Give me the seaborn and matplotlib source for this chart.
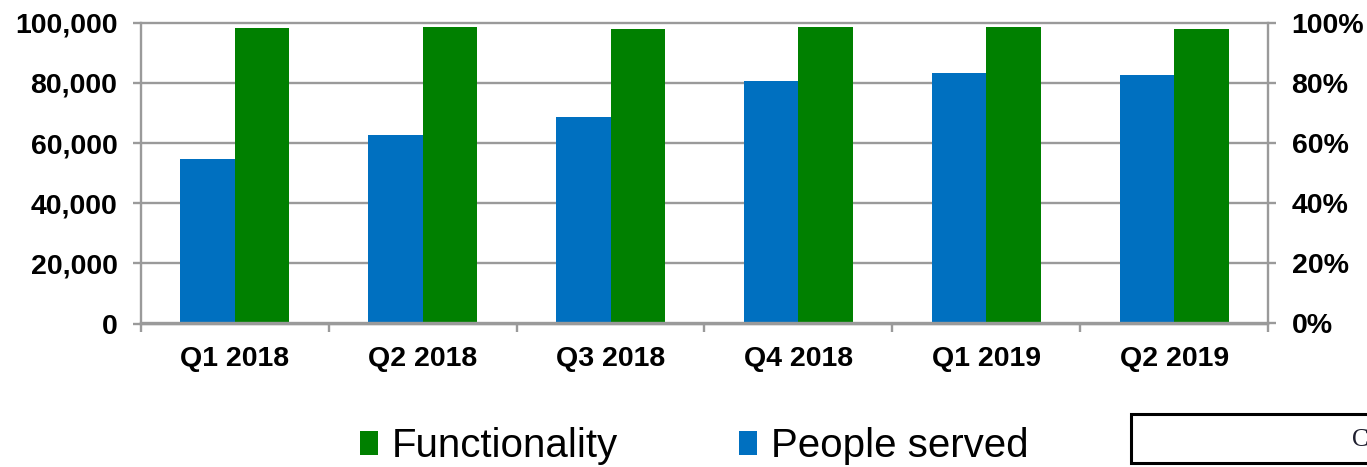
import numpy as np
import pandas as pd
import matplotlib
matplotlib.use("Agg")
import matplotlib.pyplot as plt
from matplotlib.patches import Rectangle
from matplotlib.ticker import FuncFormatter
import seaborn as sns

# ---- data ----
quarters = ["Q1 2018", "Q2 2018", "Q3 2018", "Q4 2018", "Q1 2019", "Q2 2019"]
people_served = [54600, 62600, 68500, 80600, 83300, 82600]
functionality = [98.3, 98.5, 97.8, 98.5, 98.5, 97.8]
series_names = ["People served", "Functionality"]
legend_order = ["Functionality", "People served"]

sns.set_style("white")
plt.rcParams["font.family"] = ["Liberation Sans", "DejaVu Sans"]
plt.rcParams["text.color"] = "black"
plt.rcParams["xtick.color"] = "black"
plt.rcParams["ytick.color"] = "black"

BLUE = "#0070C0"
GREEN = "#008000"
GRAY = "#9A9A9A"
palette = {"People served": BLUE, "Functionality": GREEN}

df_people = pd.DataFrame({"Quarter": quarters, "Value": people_served,
                          "Series": "People served"})
df_func = pd.DataFrame({"Quarter": quarters, "Value": functionality,
                        "Series": "Functionality"})

W, H = 1367, 467
fig = plt.figure(figsize=(W / 100, H / 100), dpi=100)
ax = fig.add_axes([141 / W, 1 - 323.5 / H, (1268 - 141) / W, (323.5 - 22.7) / H])
ax2 = ax.twinx()

sns.barplot(data=df_people, x="Quarter", y="Value", hue="Series",
            hue_order=series_names, order=quarters, palette=palette,
            width=0.58, dodge=True, saturation=1, linewidth=0, legend=False,
            ax=ax, errorbar=None)
sns.barplot(data=df_func, x="Quarter", y="Value", hue="Series",
            hue_order=series_names, order=quarters, palette=palette,
            width=0.58, dodge=True, saturation=1, linewidth=0, legend=False,
            ax=ax2, errorbar=None)

ax.set_xlim(-0.5, len(quarters) - 0.5)
ax.set_ylim(0, 100000)
ax2.set_ylim(0, 100)
for a in (ax, ax2):
    a.set_xlabel("")
    a.set_ylabel("")

# y ticks
ax.set_yticks(np.arange(0, 100001, 20000))
ax.yaxis.set_major_formatter(FuncFormatter(lambda v, p: f"{int(v):,}"))
ax2.set_yticks(np.arange(0, 101, 20))
ax2.yaxis.set_major_formatter(FuncFormatter(lambda v, p: f"{int(v)}%"))

# grid
ax.set_axisbelow(True)
ax.yaxis.grid(True, color=GRAY, linewidth=1.7)
ax.xaxis.grid(False)
for gl in ax.get_ygridlines():
    gl.set_clip_on(False)

# x ticks: labels at centres, tick marks at boundaries
ax.set_xticks(range(len(quarters)))
ax.set_xticklabels(quarters)
ax.set_xticks(np.arange(-0.5, len(quarters), 1.0), minor=True)
ax.tick_params(axis="x", which="major", length=0, pad=16,
               labelsize=20.5)
ax.tick_params(axis="x", which="minor", length=6, width=1.7, color=GRAY,
               direction="out", bottom=True)
ax.tick_params(axis="y", which="major", length=6, width=1.7, color=GRAY,
               direction="out", left=True, pad=11, labelsize=20.5)
ax2.tick_params(axis="y", which="major", length=6, width=1.7, color=GRAY,
                direction="out", right=True, pad=11, labelsize=20.5)
for lab in ax.get_xticklabels() + ax.get_yticklabels() + ax2.get_yticklabels():
    lab.set_fontweight("bold")
    lab.set_color("black")

# spines
for a in (ax, ax2):
    for s in a.spines.values():
        s.set_color(GRAY)
        s.set_linewidth(1.7)
    a.spines["top"].set_visible(False)
ax.spines["right"].set_visible(False)
ax2.spines["left"].set_visible(False)

# legend
handles = [Rectangle((0, 0), 1, 1, facecolor=palette[n], edgecolor="none")
           for n in legend_order]
leg = fig.legend(handles, legend_order, loc="center",
                 bbox_to_anchor=(0.508, 0.045), ncol=2, frameon=False,
                 fontsize=29, handlelength=0.45, handleheight=0.55,
                 handletextpad=0.35, columnspacing=3.0, borderaxespad=0)
for t in leg.get_texts():
    t.set_color("black")

# partial box at bottom right
fig.patches.append(Rectangle((1131 / W, 1 - 463 / H), 0.3, (463 - 414) / H,
                             transform=fig.transFigure, facecolor="white",
                             edgecolor="black", linewidth=2.2, figure=fig))
fig.text(1352 / W, 1 - 440 / H, "C", fontsize=18, va="center", ha="left",
         color="#202030", family=["Liberation Serif", "DejaVu Serif"])

fig.savefig("out.png", dpi=100)
